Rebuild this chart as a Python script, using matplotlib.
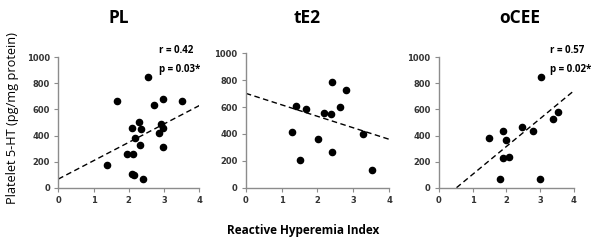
import numpy as np
import matplotlib.pyplot as plt

# values
pl_x = [1.37, 1.67, 2.55, 1.96, 2.08, 2.10, 2.15, 2.13, 2.17, 2.28, 2.35, 2.32, 2.39,
        2.71, 2.85, 2.92, 2.96, 2.98, 2.98, 3.50]
pl_y = [176, 665, 847, 261, 458, 105, 95, 256, 378, 501, 448, 325, 69,
        632, 417, 486, 455, 680, 315, 665]
pl_fit = [66, 630]  # line at x=0 and x=4

te2_x = [1.28, 1.40, 1.50, 1.67, 2.01, 2.18, 2.38, 2.40, 2.41, 2.64, 2.80, 3.26, 3.52]
te2_y = [412, 608, 206, 583, 362, 556, 546, 784, 266, 600, 727, 397, 129]
te2_fit = [702, 360]

ocee_x = [1.47, 1.81, 1.91, 1.91, 1.98, 2.07, 2.46, 2.80, 2.98, 3.03, 3.39, 3.52]
ocee_y = [379, 66, 432, 225, 363, 235, 465, 435, 66, 847, 524, 581]
ocee_fit_x = [0.52, 4.0]
ocee_fit_y = [0, 744]

titles = ['PL', 'tE2', 'oCEE']
stats = [('r = 0.42', 'p = 0.03*'), None, ('r = 0.57', 'p = 0.02*')]

fig = plt.figure(figsize=(6.01, 2.4), dpi=100)

# axes rectangles in figure fractions
rects = [[0.097, 0.218, 0.2346, 0.543],
         [0.409, 0.218, 0.2385, 0.560],
         [0.7304, 0.218, 0.2246, 0.543]]
title_x = [0.197, 0.511, 0.864]

xs = [pl_x, te2_x, ocee_x]
ys = [pl_y, te2_y, ocee_y]
fit_x = [[0, 4], [0, 4], ocee_fit_x]
fit_y = [pl_fit, te2_fit, ocee_fit_y]

for i in range(3):
    ax = fig.add_axes(rects[i])
    ax.scatter(xs[i], ys[i], s=20, color='black', zorder=3, clip_on=False)
    ax.plot(fit_x[i], fit_y[i], '--', color='black', lw=1, dashes=(4, 2.5))
    ax.set_xlim(0, 4)
    ax.set_ylim(0, 1000)
    ax.set_xticks([0, 1, 2, 3, 4])
    ax.set_yticks([0, 200, 400, 600, 800, 1000])
    for s in ['top', 'right']:
        ax.spines[s].set_visible(False)
    for s in ['left', 'bottom']:
        ax.spines[s].set_color('#8c8c8c')
        ax.spines[s].set_linewidth(1)
    ax.tick_params(length=3, width=0.8, color='#8c8c8c', labelsize=6, pad=3)
    for lab in ax.get_xticklabels() + ax.get_yticklabels():
        lab.set_fontweight('bold')
        lab.set_color('#333333')
    fig.text(title_x[i], 0.925, titles[i], ha='center', va='center',
             fontsize=12.5, fontweight='bold', family='Open Sans')
    if stats[i] is not None:
        tx = 2.85 if i == 0 else 3.29
        ax.text(tx, 1050, stats[i][0], fontsize=7, fontweight='bold', va='center',
                family='Open Sans')
        ax.text(tx, 905, stats[i][1], fontsize=7, fontweight='bold', va='center',
                family='Open Sans')

fig.text(0.021, 0.51, 'Platelet 5-HT (pg/mg protein)', rotation=90, ha='center',
         va='center', fontsize=9.2, family='Open Sans')
fig.text(0.505, 0.04, 'Reactive Hyperemia Index', ha='center', va='center',
         fontsize=8.5, fontweight='bold', family='Open Sans')

plt.savefig('out.png', dpi=100)
